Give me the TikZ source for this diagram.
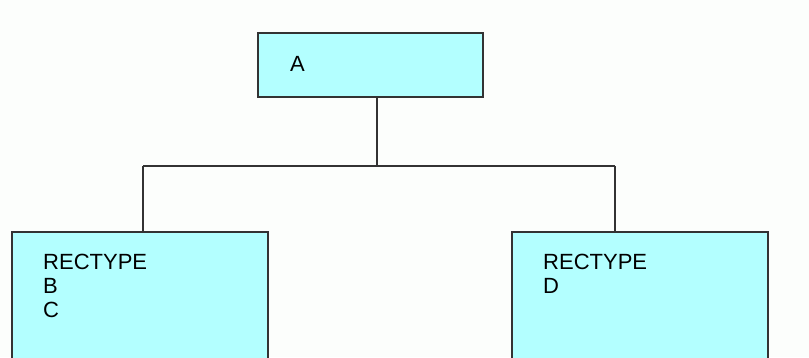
\documentclass[tikz,border=0pt]{standalone}
\usepackage{fontspec}
\setmainfont{Liberation Sans}
\definecolor{boxfill}{HTML}{B3FFFF}
\definecolor{edge}{HTML}{333333}
\definecolor{bg}{HTML}{FCFEFC}
\begin{document}
\begin{tikzpicture}[x=1pt,y=-1pt,
  recbox/.style={draw=edge, line width=1.8pt, fill=boxfill, rectangle, anchor=north west, inner sep=0pt},
  rectext/.style={anchor=base west, inner sep=0pt, align=left, font=\fontsize{22}{24}\selectfont, text=black},
  conn/.style={draw=edge, line width=1.5pt}]
\useasboundingbox (0,0) rectangle (809,357);
\clip (0,0) rectangle (809,357);
\fill[bg] (0,0) rectangle (809,357);
\node[recbox, minimum width=225pt, minimum height=64pt] (A) at (257,32) {};
\node[recbox, minimum width=256pt, minimum height=160pt] (B) at (11,231) {};
\node[recbox, minimum width=256pt, minimum height=160pt] (D) at (511,231) {};
\node[rectext] (tA) at (290,71) {A};
\node[rectext] (tB) at (43,317) {RECTYPE\\B\\C};
\node[rectext] (tD) at (543,293) {RECTYPE\\D};
\coordinate (j) at (377,166);
\coordinate (jl) at (143,166);
\coordinate (jr) at (615,166);
\draw[conn] (A.south -| j) -- (j);
\draw[conn] (jl) -- (jr);
\draw[conn] (jl) -- (jl |- B.north);
\draw[conn] (jr) -- (jr |- D.north);
\end{tikzpicture}
\end{document}
